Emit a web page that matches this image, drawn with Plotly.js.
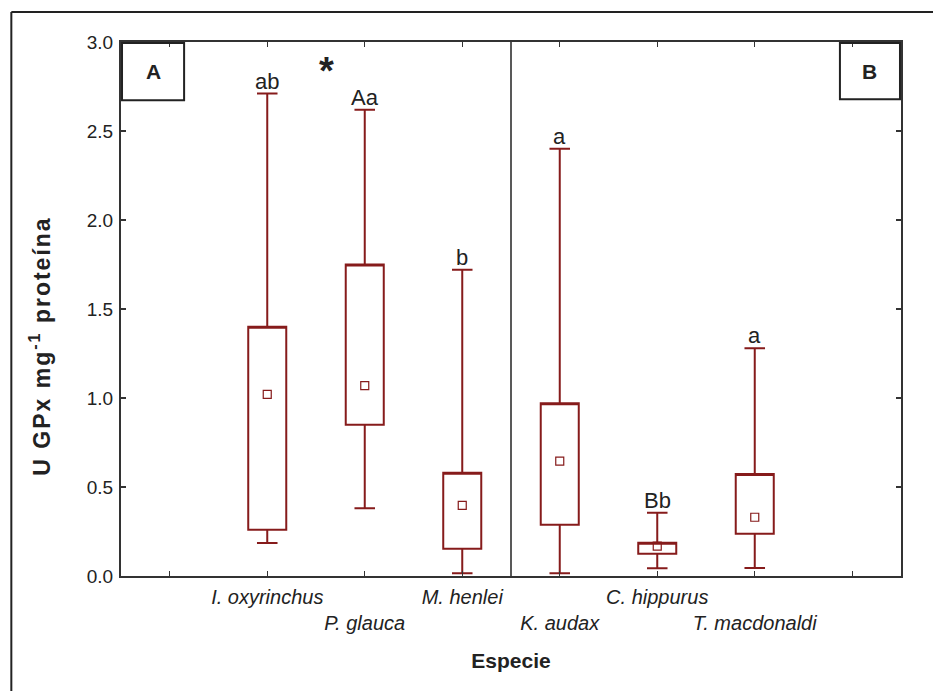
<!DOCTYPE html>
<html><head><meta charset="utf-8">
<script src="https://cdn.plot.ly/plotly-3.0.1.min.js"></script>
<style>html,body{margin:0;padding:0;background:#fff}#chart{width:933px;height:691px}</style>
</head><body><div id="chart"></div>
<script>
// ---- data ----
const species = ['I. oxyrinchus', 'P. glauca', 'M. henlei', 'K. audax', 'C. hippurus', 'T. macdonaldi'];
const positions = [1, 2, 3, 4, 5, 6];
const minVals = [0.185, 0.38, 0.015, 0.015, 0.043, 0.045];
const q1Vals = [0.26, 0.85, 0.153, 0.288, 0.125, 0.238];
const medianVals = [1.02, 1.07, 0.397, 0.645, 0.168, 0.33];
const q3Vals = [1.40, 1.75, 0.58, 0.97, 0.187, 0.573];
const maxVals = [2.71, 2.62, 1.72, 2.40, 0.356, 1.28];
const groupLetters = ['ab', 'Aa', 'b', 'a', 'Bb', 'a'];
const tickLabels = ['I. oxyrinchus', '\u00a0<br>P. glauca', 'M. henlei', '\u00a0<br>K. audax', 'C. hippurus', '\u00a0<br>T. macdonaldi'];
const yTicks = [0, 0.5, 1.0, 1.5, 2.0, 2.5, 3.0];
const panelLabels = ['A', 'B'];
const yTitle = 'U GPx mg<sup>-1</sup> proteína';

const RED = '#861b1b';
const INK = '#222222';
const FONT = 'Liberation Sans, Arial, Helvetica, sans-serif';

const traces = [
  {
    type: 'box',
    x: positions,
    q1: q1Vals,
    median: q3Vals,
    q3: q3Vals,
    lowerfence: minVals,
    upperfence: maxVals,
    width: 0.39,
    whiskerwidth: 0.54,
    boxpoints: false,
    line: {color: RED, width: 2},
    fillcolor: 'rgba(0,0,0,0)',
    hoverinfo: 'skip',
    showlegend: false
  },
  {
    type: 'scatter',
    mode: 'markers',
    x: positions,
    y: medianVals,
    marker: {symbol: 'square-open', size: 8, color: RED, line: {width: 1.2, color: RED}},
    hoverinfo: 'skip',
    showlegend: false
  }
];

const annotations = positions.map((p, i) => ({
  x: p, y: maxVals[i], xref: 'x', yref: 'y',
  text: groupLetters[i], showarrow: false, xanchor: 'center', yanchor: 'bottom', yshift: -2,
  font: {family: FONT, size: 22, color: INK}
}));
annotations.push({
  x: 1.612, y: 2.87, xref: 'x', yref: 'y', text: '*', showarrow: false,
  xanchor: 'center', yanchor: 'middle', yshift: -6,
  font: {family: FONT, size: 38, color: INK, weight: 700}
});
annotations.push({
  x: 0.0411, y: 0.945, xref: 'paper', yref: 'paper', text: panelLabels[0], showarrow: false,
  xanchor: 'center', yanchor: 'middle',
  font: {family: FONT, size: 21, color: INK, weight: 700}
});
annotations.push({
  x: 0.9602, y: 0.945, xref: 'paper', yref: 'paper', text: panelLabels[1], showarrow: false,
  xanchor: 'center', yanchor: 'middle',
  font: {family: FONT, size: 21, color: INK, weight: 700}
});
// y-axis title (placed as in the original, below the plot centre)
annotations.push({
  x: -0.104, y: 0.431, xref: 'paper', yref: 'paper', text: yTitle, showarrow: false,
  textangle: -90, xanchor: 'center', yanchor: 'middle',
  font: {family: FONT, size: 23, color: INK, weight: 700}
});

const shapes = [
  {type: 'line', xref: 'x', yref: 'y', x0: 3.5, x1: 3.5, y0: 0, y1: 3, line: {color: INK, width: 1.5}},
  {type: 'rect', xref: 'paper', yref: 'paper', x0: 0.0013, x1: 0.0809, y0: 0.891, y1: 0.998, line: {color: INK, width: 2}},
  {type: 'rect', xref: 'paper', yref: 'paper', x0: 0.9217, x1: 0.9987, y0: 0.893, y1: 0.998, line: {color: INK, width: 2}},
  {type: 'line', xref: 'paper', yref: 'paper', x0: -0.1406, x1: -0.1406, y0: -0.25, y1: 1.0562, line: {color: INK, width: 2}},
  {type: 'line', xref: 'paper', yref: 'paper', x0: -0.1406, x1: 1.06, y0: 1.0562, y1: 1.0562, line: {color: INK, width: 2}}
];

const layout = {
  width: 933, height: 691,
  margin: {l: 121, r: 32, t: 42, b: 115},
  paper_bgcolor: '#ffffff', plot_bgcolor: '#ffffff',
  font: {family: FONT, color: INK},
  showlegend: false,
  xaxis: {
    range: [-0.5, 7.5],
    tickmode: 'array', tickvals: positions, ticktext: tickLabels, tickangle: 0,
    ticks: 'inside', ticklen: 5, tickwidth: 1.2, tickcolor: '#333',
    minor: {tick0: 0, dtick: 1, ticks: 'inside', ticklen: 5, tickwidth: 1.2, tickcolor: '#333', showgrid: false},
    showline: true, linecolor: '#333', linewidth: 2, mirror: 'ticks',
    showgrid: false, zeroline: false, ticklabelstandoff: 2,
    tickfont: {family: FONT, size: 20, color: INK, style: 'italic'},
    title: {text: 'Especie', font: {family: FONT, size: 21, color: INK, weight: 700}, standoff: 20}
  },
  yaxis: {
    range: [0, 3],
    tickmode: 'array', tickvals: yTicks, ticktext: yTicks.map(v => v.toFixed(1)),
    ticks: 'inside', ticklen: 5, tickwidth: 1.2, tickcolor: '#333',
    showline: true, linecolor: '#333', linewidth: 2, mirror: 'ticks',
    showgrid: false, zeroline: false, ticklabelstandoff: 2,
    tickfont: {family: FONT, size: 19, color: INK}
  },
  annotations: annotations,
  shapes: shapes
};

Plotly.newPlot('chart', traces, layout, {displayModeBar: false, staticPlot: true}).then(gd => {
  gd.querySelectorAll('text.annotation-text').forEach(t => {
    if (t.textContent.indexOf('GPx') >= 0) t.style.letterSpacing = '2px';
  });
});
</script></body></html>
